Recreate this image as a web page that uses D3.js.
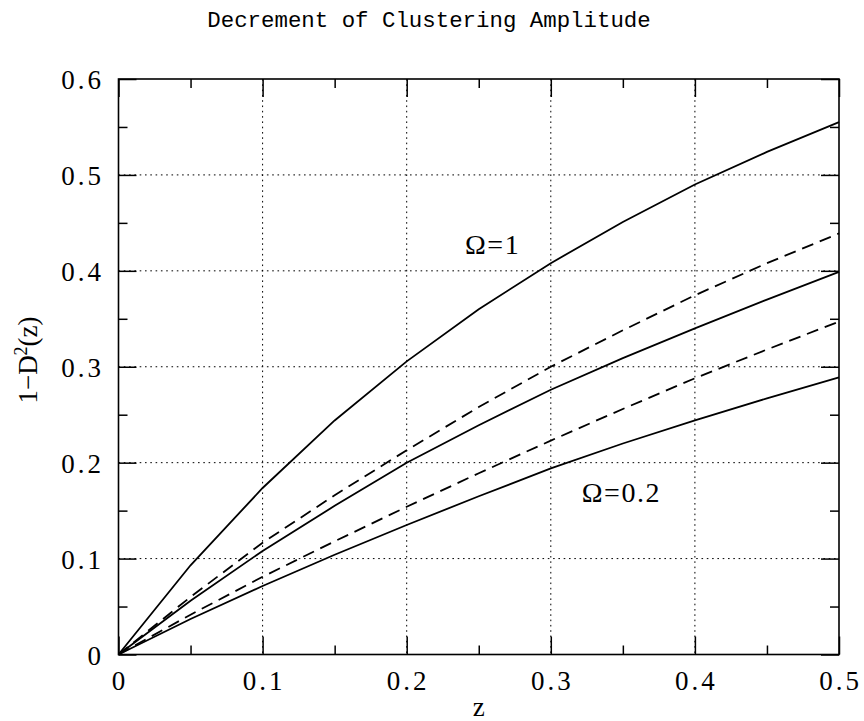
<!DOCTYPE html>
<html>
<head>
<meta charset="utf-8">
<script src="https://cdn.jsdelivr.net/npm/d3@7"></script>
<style>
  html, body { margin: 0; padding: 0; background: #fff; }
  svg { display: block; }
</style>
</head>
<body>
<svg id="chart" width="864" height="721"></svg>
<script>
// Redshift samples shared by every curve
const zSamples = [0, 0.05, 0.10, 0.15, 0.20, 0.25, 0.30, 0.35, 0.40, 0.45, 0.50];

// 1 - D^2(z) for each model
const solidTop    = [0, 0.093, 0.1736, 0.244, 0.3056, 0.360, 0.408, 0.451, 0.490, 0.524, 0.555];
const dashedUpper = [0, 0.060, 0.1165, 0.166, 0.213, 0.258, 0.300, 0.338, 0.3745, 0.408, 0.439];
const solidMiddle = [0, 0.056, 0.108, 0.155, 0.200, 0.239, 0.276, 0.309, 0.340, 0.370, 0.399];
const dashedLower = [0, 0.0415, 0.081, 0.118, 0.154, 0.189, 0.223, 0.256, 0.288, 0.318, 0.347];
const solidBottom = [0, 0.037, 0.0714, 0.104, 0.135, 0.165, 0.194, 0.220, 0.244, 0.267, 0.289];

const curveSeries = [solidTop, dashedUpper, solidMiddle, dashedLower, solidBottom];
const curveDashed = [false, true, false, true, false];

// Axis ticks
const xMajorTicks = [0, 0.1, 0.2, 0.3, 0.4, 0.5];
const xTickLabels = ["0", "0.1", "0.2", "0.3", "0.4", "0.5"];
const xMinorTicks = [0.05, 0.15, 0.25, 0.35, 0.45];
const yMajorTicks = [0, 0.1, 0.2, 0.3, 0.4, 0.5, 0.6];
const yTickLabels = ["0", "0.1", "0.2", "0.3", "0.4", "0.5", "0.6"];
const yMinorTicks = [0.05, 0.15, 0.25, 0.35, 0.45, 0.55];

// Curve annotations
const annotations = [
  { text: "Ω=1", z: 0.2405, v: 0.418 },
  { text: "Ω=0.2", z: 0.3215, v: 0.1585 }
];

const titleText = "Decrement of Clustering Amplitude";

(function draw() {
  const svg = d3.select("#chart");
  const pLeft = 118.5, pRight = 839, pTop = 79, pBottom = 654.5;

  const x = d3.scaleLinear().domain([0, 0.5]).range([pLeft, pRight]);
  const y = d3.scaleLinear().domain([0, 0.6]).range([pBottom, pTop]);

  const serif = "'Liberation Serif', 'Times New Roman', serif";

  // dotted grid at major ticks
  const grid = svg.append("g")
    .attr("stroke", "#000")
    .attr("stroke-width", 1)
    .attr("stroke-dasharray", "1.6,3.7")
    .attr("fill", "none");
  grid.selectAll("line.gx").data(xMajorTicks.slice(1, -1)).join("line")
    .attr("class", "gx")
    .attr("x1", d => x(d)).attr("x2", d => x(d))
    .attr("y1", pTop).attr("y2", pBottom);
  grid.selectAll("line.gy").data(yMajorTicks.slice(1, -1)).join("line")
    .attr("class", "gy")
    .attr("x1", pLeft).attr("x2", pRight)
    .attr("y1", d => y(d)).attr("y2", d => y(d));

  // inward ticks on all four sides, drawn with d3 axes
  function tickAxis(axisFn, scale, values, size, transform) {
    const g = svg.append("g").attr("transform", transform)
      .call(axisFn(scale).tickValues(values).tickSize(size).tickFormat(""));
    g.select(".domain").remove();
    g.selectAll(".tick line").attr("stroke", "#000").attr("stroke-width", 1.5);
    return g;
  }
  tickAxis(d3.axisTop, x, xMajorTicks, 18, `translate(0,${pBottom})`);
  tickAxis(d3.axisTop, x, xMinorTicks, 9, `translate(0,${pBottom})`);
  tickAxis(d3.axisBottom, x, xMajorTicks, 18, `translate(0,${pTop})`);
  tickAxis(d3.axisBottom, x, xMinorTicks, 9, `translate(0,${pTop})`);
  tickAxis(d3.axisRight, y, yMajorTicks, 18, `translate(${pLeft},0)`);
  tickAxis(d3.axisRight, y, yMinorTicks, 9, `translate(${pLeft},0)`);
  tickAxis(d3.axisLeft, y, yMajorTicks, 18, `translate(${pRight},0)`);
  tickAxis(d3.axisLeft, y, yMinorTicks, 9, `translate(${pRight},0)`);

  // frame
  svg.append("rect")
    .attr("x", pLeft).attr("y", pTop)
    .attr("width", pRight - pLeft).attr("height", pBottom - pTop)
    .attr("fill", "none").attr("stroke", "#000").attr("stroke-width", 1.6);

  // tick labels
  svg.append("g").selectAll("text").data(xMajorTicks).join("text")
    .attr("x", d => x(d) + 1.5)
    .attr("y", pBottom + 35.5)
    .attr("text-anchor", "middle")
    .attr("font-family", serif).attr("font-size", 27)
    .attr("letter-spacing", 3)
    .text((d, i) => xTickLabels[i]);

  svg.append("g").selectAll("text").data(yMajorTicks).join("text")
    .attr("x", pLeft - 14.5)
    .attr("y", d => y(d) + 10)
    .attr("text-anchor", "end")
    .attr("font-family", serif).attr("font-size", 27)
    .attr("letter-spacing", 3)
    .text((d, i) => yTickLabels[i]);

  // curves
  const line = d3.line()
    .x((d, i) => x(zSamples[i]))
    .y(d => y(d))
    .curve(d3.curveLinear);

  svg.append("g").selectAll("path").data(curveSeries).join("path")
    .attr("d", d => line(d))
    .attr("fill", "none")
    .attr("stroke", "#000")
    .attr("stroke-width", 1.8)
    .attr("stroke-dasharray", (d, i) => curveDashed[i] ? "12,7" : null);

  // annotations
  svg.append("g").selectAll("text").data(annotations).join("text")
    .attr("x", d => x(d.z))
    .attr("y", d => y(d.v))
    .attr("font-family", serif).attr("font-size", 28)
    .attr("letter-spacing", 1.5)
    .text(d => d.text);

  // title
  svg.append("text")
    .attr("x", 429).attr("y", 27)
    .attr("text-anchor", "middle")
    .attr("font-family", "'Liberation Mono', 'Courier New', monospace")
    .attr("font-size", 22.4)
    .text(titleText);

  // axis titles
  svg.append("text")
    .attr("x", (pLeft + pRight) / 2).attr("y", 716)
    .attr("text-anchor", "middle")
    .attr("font-family", serif).attr("font-size", 27)
    .text("z");

  const yTitle = svg.append("text")
    .attr("transform", "translate(37,360) rotate(-90)")
    .attr("text-anchor", "middle")
    .attr("font-family", serif).attr("font-size", 27);
  yTitle.append("tspan").text("1−D");
  yTitle.append("tspan").attr("font-size", 18).attr("dy", -10).text("2");
  yTitle.append("tspan").attr("dy", 10).text("(z)");
})();
</script>
</body>
</html>
